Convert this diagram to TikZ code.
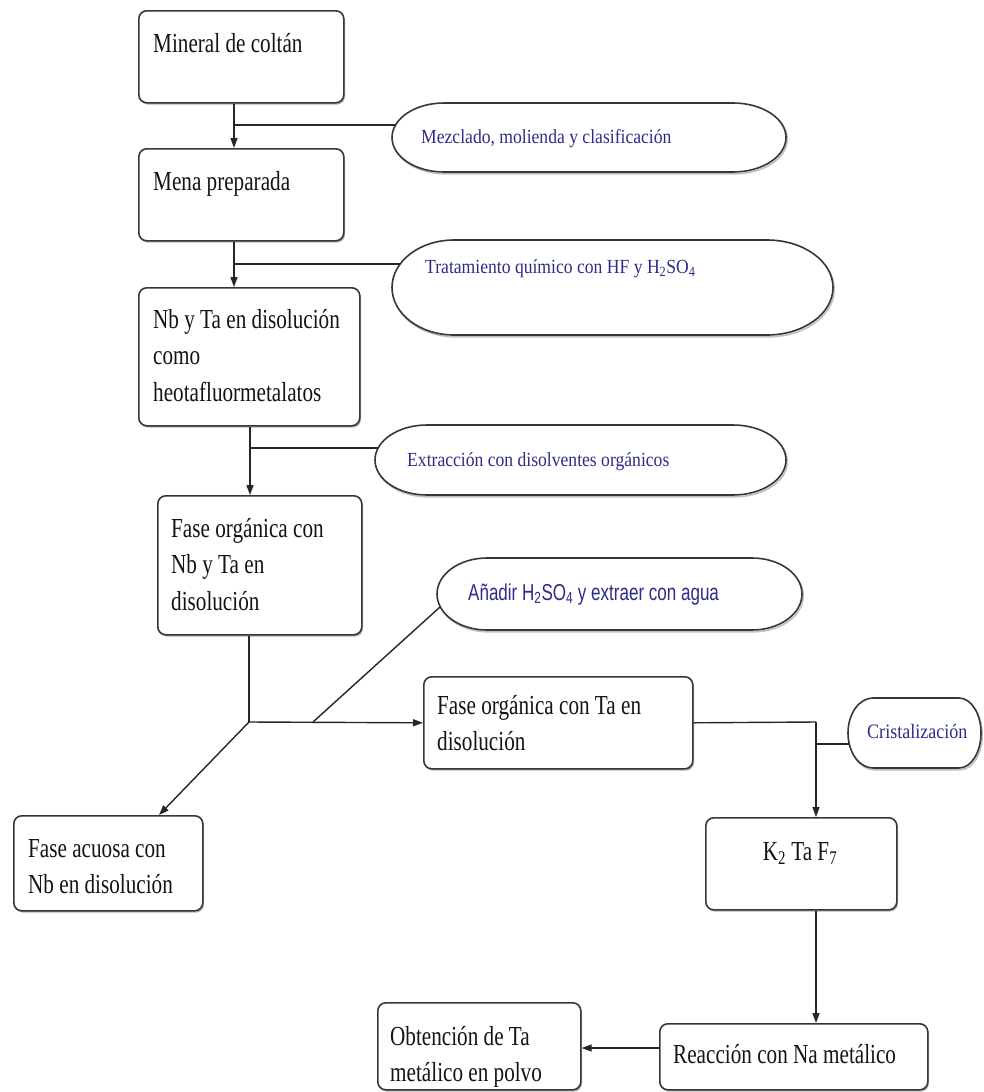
\documentclass[tikz,border=0pt]{standalone}
\usepackage{fontspec}
\setmainfont{Liberation Serif}
\newfontfamily\boxfont{Liberation Serif}[FakeStretch=0.77]
\newfontfamily\ellfont{Liberation Serif}[FakeStretch=0.88]
\newfontfamily\ellsans{Liberation Sans}[FakeStretch=0.74]
\usetikzlibrary{arrows.meta,shadows,calc}
\definecolor{ebl}{RGB}{45,45,135}
\definecolor{edge}{RGB}{55,55,55}
\newcommand\firstln{\rule{0pt}{22pt}}
\newcommand\mycapsule[6]{%
 \draw[capshadow, shift={(1.2,1.8)}] ({#1+#5},#2) -- ({#3-#6},#2)
  .. controls ({#3-0.4477*#6},#2) and (#3,{(#2+#4)/2-0.2762*(#4-#2)}) .. (#3,{(#2+#4)/2})
  .. controls (#3,{(#2+#4)/2+0.2762*(#4-#2)}) and ({#3-0.4477*#6},#4) .. ({#3-#6},#4)
  -- ({#1+#5},#4)
  .. controls ({#1+0.4477*#5},#4) and (#1,{(#2+#4)/2+0.2762*(#4-#2)}) .. (#1,{(#2+#4)/2})
  .. controls (#1,{(#2+#4)/2-0.2762*(#4-#2)}) and ({#1+0.4477*#5},#2) .. ({#1+#5},#2) -- cycle;
 \draw[capline] ({#1+#5},#2) -- ({#3-#6},#2)
  .. controls ({#3-0.4477*#6},#2) and (#3,{(#2+#4)/2-0.2762*(#4-#2)}) .. (#3,{(#2+#4)/2})
  .. controls (#3,{(#2+#4)/2+0.2762*(#4-#2)}) and ({#3-0.4477*#6},#4) .. ({#3-#6},#4)
  -- ({#1+#5},#4)
  .. controls ({#1+0.4477*#5},#4) and (#1,{(#2+#4)/2+0.2762*(#4-#2)}) .. (#1,{(#2+#4)/2})
  .. controls (#1,{(#2+#4)/2-0.2762*(#4-#2)}) and ({#1+0.4477*#5},#2) .. ({#1+#5},#2) -- cycle;
}
\tikzset{
 boxn/.style={draw=edge, line width=1.6pt, rounded corners=8pt, fill=white, inner sep=0pt,
   anchor=north west, drop shadow={shadow xshift=1.2pt, shadow yshift=-1.8pt, opacity=0.3, fill=black}},
 btext/.style={inner sep=0pt, anchor=north west, align=left, text=black!92,
   font=\boxfont\fontsize{27.5}{36.5}\selectfont},
 etext/.style={inner sep=0pt, anchor=base west, text=ebl, font=\ellfont\fontsize{20}{24}\selectfont},
 stext/.style={inner sep=0pt, anchor=base west, text=ebl, font=\ellsans\fontsize{23}{26}\selectfont},
 capline/.style={draw=edge, line width=1.6pt, fill=white},
 capshadow/.style={draw=black!25, line width=1.6pt},
 conn/.style={draw=black!85, line width=1.4pt},
 arr/.style={conn, -{Triangle[length=10pt,width=7pt]}}
}
\begin{document}
\begin{tikzpicture}[x=1pt,y=-1pt]
\useasboundingbox (0,0) rectangle (984,1092);
\fill[white] (0,0) rectangle (984,1092);

% process boxes
\node[boxn, minimum width=205, minimum height=92]  (b1) at (138,10) {};
\node[boxn, minimum width=205, minimum height=92]  (b2) at (138,148) {};
\node[boxn, minimum width=221, minimum height=138] (b3) at (138,287) {};
\node[boxn, minimum width=204, minimum height=139] (b4) at (157,495) {};
\node[boxn, minimum width=269, minimum height=92]  (b5) at (423,676) {};
\node[boxn, minimum width=189, minimum height=95]  (b6) at (13,815) {};
\node[boxn, minimum width=191, minimum height=92]  (b7) at (705,817) {};
\node[boxn, minimum width=268, minimum height=66]  (b8) at (659,1023) {};
\node[boxn, minimum width=203, minimum height=87]  (b9) at (377,1002) {};

\node[btext] (t1) at (153,30) {\firstln Mineral de coltán};
\node[btext] (t2) at (153,168) {\firstln Mena preparada};
\node[btext] (t3) at (153,306) {\firstln Nb y Ta en disolución\\como\\heotafluormetalatos};
\node[btext] (t4) at (171,515) {\firstln Fase orgánica con\\Nb y Ta en\\disolución};
\node[btext] (t5) at (437,692) {\firstln Fase orgánica con Ta en\\disolución};
\node[btext] (t6) at (28,835) {\firstln Fase acuosa con\\Nb en disolución};
\node[btext, anchor=base] (t7) at (800,860) {K\textsubscript{2} Ta F\textsubscript{7}};
\node[btext] (t8) at (673,1041) {\firstln Reacción con Na metálico};
\node[btext] (t9) at (390,1023) {\firstln Obtención de Ta\\metálico en polvo};

% operation capsules
\mycapsule{392}{103}{786}{172}{52}{53}
\mycapsule{392}{240}{833}{335}{62}{66}
\mycapsule{375}{425}{786}{495}{52}{53}
\mycapsule{437}{558}{802}{630}{50}{50}
\mycapsule{848}{698}{981}{768}{25}{22}

\node[etext] (e1) at (421,143) {Mezclado, molienda y clasificación};
\node[etext] (e2) at (425,273) {Tratamiento químico con HF y H\textsubscript{2}SO\textsubscript{4}};
\node[etext] (e3) at (407,466) {Extracción con disolventes orgánicos};
\node[stext] (e4) at (468,600) {Añadir H\textsubscript{2}SO\textsubscript{4} y extraer con agua};
\node[etext, font=\ellfont\fontsize{20.5}{24}\selectfont] (e5) at (867,738) {Cristalización};

% connector points
\coordinate (e1w) at (396,125);
\coordinate (e2w) at (400,264);
\coordinate (e3w) at (378,448);
\coordinate (e4w) at (440,607);
\coordinate (e5w) at (849,744);
\coordinate (j1) at (234,125);
\coordinate (j2) at (234,264);
\coordinate (j3) at (250,448);
\coordinate (j4) at (249,722);
\coordinate (j5) at (313,722);
\coordinate (j7) at (816,722);
\coordinate (j8) at (620,1048);

% connectors
\draw[conn] (e1w) -- (j1);
\draw[arr] (b1.south -| j1) -- (b2.north -| j1);
\draw[conn] (e2w) -- (j2);
\draw[arr] (b2.south -| j2) -- (b3.north -| j2);
\draw[conn] (e3w) -- (j3);
\draw[arr] (b3.south -| j3) -- (b4.north -| j3);
\draw[conn] (b4.south -| j4) -- (j4);
\draw[arr] (j4) -- (b5.west);
\draw[conn] (e4w) -- (j5);
\draw[arr] (j4) -- ($(b6.north west)+(146,0)$);
\draw[conn] (b5.east) -- (j7);
\draw[conn] (e5w) -- (e5w -| j7);
\draw[arr] (j7) -- (b7.north -| j7);
\draw[arr] (b7.south -| j7) -- (b8.north -| j7);
\draw[arr] (b8.west |- j8) -- (b9.east |- j8);
\end{tikzpicture}
\end{document}
